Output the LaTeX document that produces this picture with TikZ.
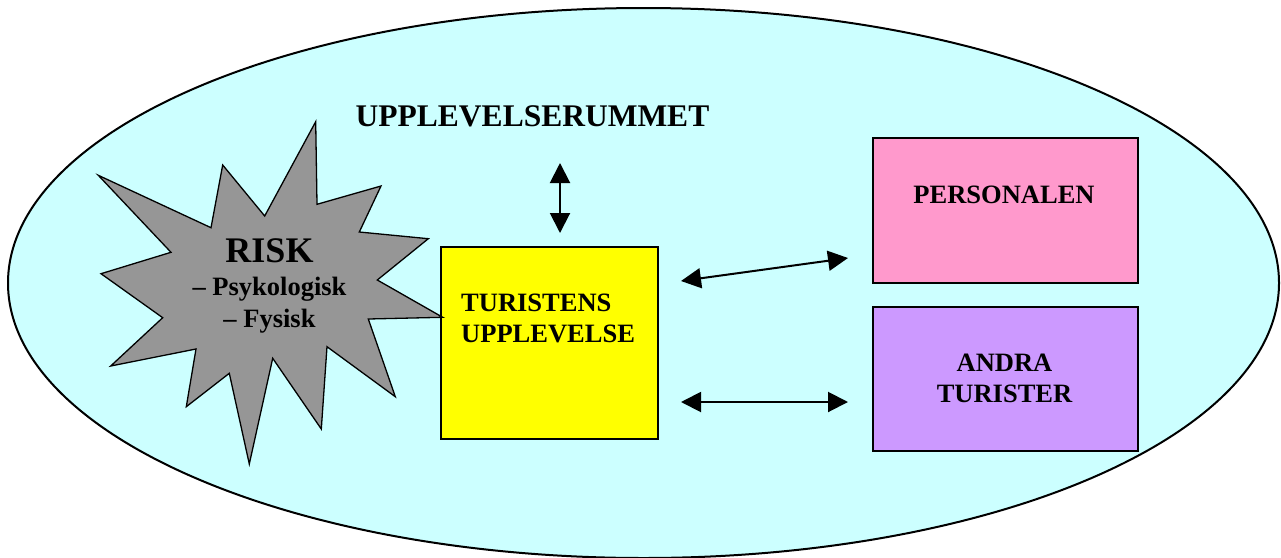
\documentclass[tikz,border=0pt]{standalone}
\usepackage{fontspec}
\setmainfont{Liberation Serif}
\usetikzlibrary{arrows.meta}

\definecolor{roomcyan}{HTML}{CCFFFF}
\definecolor{riskgray}{HTML}{969696}
\definecolor{touristyellow}{HTML}{FFFF00}
\definecolor{staffpink}{HTML}{FF99CC}
\definecolor{otherspurple}{HTML}{CC99FF}

\begin{document}
\begin{tikzpicture}[x=1pt, y=-1pt,
  box/.style={draw=black, line width=2pt, rectangle, inner sep=0pt, anchor=north west},
  boxtext/.style={inner sep=0pt, font=\bfseries\fontsize{26.5}{31}\selectfont},
  titletext/.style={inner sep=0pt, font=\bfseries\fontsize{31.5}{36}\selectfont},
  risktext/.style={inner sep=0pt, font=\bfseries\fontsize{36}{40}\selectfont},
  tip/.tip={Triangle[width=20pt,length=20pt]},
  link/.style={line width=2pt, tip-tip}]

\useasboundingbox (0,0) rectangle (1281,557);

% the experience room
\draw[fill=roomcyan, line width=2pt] (643.5,283) ellipse [x radius=635.5pt, y radius=275pt];

% title of the room
\node[titletext, anchor=base] (title) at (532.5,126) {UPPLEVELSERUMMET};

% boxes
\node[box, fill=touristyellow, minimum width=217pt, minimum height=192pt] (tourist) at (440,246) {};
\node[box, fill=staffpink, minimum width=265pt, minimum height=145pt] (staff) at (872,137) {};
\node[box, fill=otherspurple, minimum width=265pt, minimum height=144pt] (others) at (872,306) {};

% risk burst
\draw[fill=riskgray, line width=1.3pt, line join=miter]
  (315.7,121.7) -- (317,204.3) -- (381,186) -- (359.3,232) -- (428.3,238.7)
  -- (377.3,280) -- (442.7,317.3) -- (368.3,319) -- (395.3,396.7) -- (327,346.7)
  -- (321.3,429) -- (272.7,358.3) -- (249.3,464) -- (229.3,373.3) -- (186.3,406.7)
  -- (196,349) -- (110.7,366) -- (162.7,317.7) -- (101,273.7) -- (171,252.3)
  -- (98.3,175.3) -- (211,227.7) -- (222.7,165) -- (264.7,216) -- cycle;

\node[risktext, anchor=base] (risk) at (269.5,262.7) {RISK};
\node[boxtext, anchor=base] (riskpsy) at (269.5,295) {– Psykologisk};
\node[boxtext, anchor=base] (riskfys) at (269.5,327.3) {– Fysisk};

% box labels
\node[boxtext, anchor=base west] (tourist1) at (461,311.7) {TURISTENS};
\node[boxtext, anchor=base west] (tourist2) at (461,342.3) {UPPLEVELSE};
\node[boxtext, anchor=base] (staff1) at (1004,203.3) {PERSONALEN};
\node[boxtext, anchor=base] (others1) at (1004.5,371.7) {ANDRA};
\node[boxtext, anchor=base] (others2) at (1004.5,402.7) {TURISTER};

% arrow ends
\coordinate (roomend) at (560,163);
\coordinate (touristtop) at (560,233);
\coordinate (touristne) at (681,281);
\coordinate (staffend) at (848,258);
\coordinate (touristse) at (681,402);
\coordinate (othersend) at (848,402);

\draw[link] (roomend) -- (touristtop);
\draw[link] (touristne) -- (staffend);
\draw[link] (touristse) -- (othersend);

\end{tikzpicture}
\end{document}
